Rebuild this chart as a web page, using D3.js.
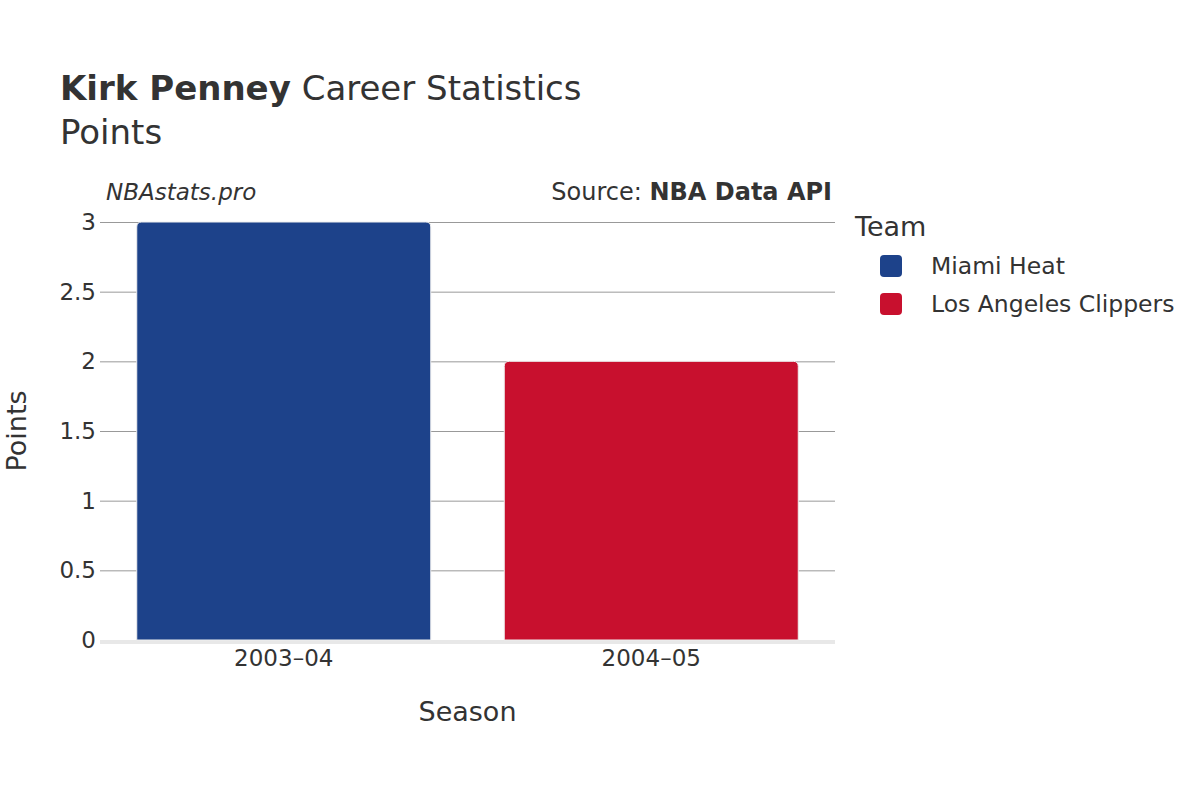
<!DOCTYPE html>
<html>
<head>
<meta charset="utf-8">
<script src="https://cdn.jsdelivr.net/npm/d3@7"></script>
<style>
  body { margin: 0; background: #fff; }
  text { font-family: "DejaVu Sans", sans-serif; fill: #333; }
</style>
</head>
<body>
<div class="chart"></div>
<script>
// data
const seasons = ['2003–04', '2004–05']
const teams = ['Miami Heat', 'Los Angeles Clippers']
const points = [3, 2]
const teamColors = ['#1d428a', '#c8102e']
const yTicks = [0, 0.5, 1, 1.5, 2, 2.5, 3]

const width = 1200, height = 800
const margin = { top: 222, left: 100, right: 365, bottom: 160 }
const innerWidth = width - margin.left - margin.right
const innerHeight = height - margin.top - margin.bottom

const svg = d3.select('.chart').append('svg')
  .attr('width', width)
  .attr('height', height)

// titles
const title = svg.append('text').attr('x', 60).attr('y', 100).style('font-size', '34px')
title.append('tspan').style('font-weight', 'bold').text('Kirk Penney')
title.append('tspan').text(' Career Statistics')
svg.append('text').attr('x', 60).attr('y', 144).style('font-size', '34px').text('Points')

svg.append('text').attr('x', 106).attr('y', 200).style('font-size', '23px')
  .style('font-style', 'italic').text('NBAstats.pro')
const src = svg.append('text').attr('x', 832).attr('y', 200).style('font-size', '24px')
  .attr('text-anchor', 'end')
src.append('tspan').text('Source: ')
src.append('tspan').style('font-weight', 'bold').text('NBA Data API')

const g = svg.append('g').attr('transform', `translate(${margin.left},${margin.top})`)

const x = d3.scaleBand().domain(seasons).range([0, innerWidth]).paddingInner(0.2).paddingOuter(0.1)
const y = d3.scaleLinear().domain([0, 3]).range([innerHeight, 0])

// grid + y labels
const yAxis = d3.axisLeft(y).tickValues(yTicks).tickSize(-innerWidth).tickPadding(4)
  .tickFormat(d3.format('~g'))
g.append('g').call(yAxis)
  .call(s => s.select('.domain').remove())
  .call(s => s.selectAll('line').attr('stroke', '#999'))
  .call(s => s.selectAll('text').style('font-size', '23px').attr('fill', '#333'))

g.append('line').attr('x1', 0).attr('x2', innerWidth)
  .attr('y1', y(0) + 2).attr('y2', y(0) + 2)
  .attr('stroke', '#e8e8e8').attr('stroke-width', 4)

g.selectAll('.bar').data(seasons).join('path')
  .attr('class', 'bar')
  .attr('fill', (d, i) => teamColors[i])
  .attr('stroke', '#eee').attr('stroke-width', 1)
  .attr('d', (d, i) => {
    const x0 = x(d), w = x.bandwidth(), y0 = y(points[i]), b = y(0), r = 5
    return `M${x0},${b}V${y0 + r}Q${x0},${y0} ${x0 + r},${y0}H${x0 + w - r}Q${x0 + w},${y0} ${x0 + w},${y0 + r}V${b}Z`
  })

// x axis
const xAxis = d3.axisBottom(x).tickSize(0).tickPadding(10)
g.append('g').attr('transform', `translate(0,${innerHeight})`).call(xAxis)
  .call(s => s.select('.domain').remove())
  .call(s => s.selectAll('text').style('font-size', '23px').attr('fill', '#333'))

svg.append('text').attr('x', margin.left + innerWidth / 2).attr('y', 721)
  .attr('text-anchor', 'middle').style('font-size', '27px').text('Season')
svg.append('text').attr('transform', `translate(26,${margin.top + innerHeight / 2}) rotate(-90)`)
  .attr('text-anchor', 'middle').style('font-size', '27px').text('Points')

// legend
svg.append('text').attr('x', 855).attr('y', 236).style('font-size', '27px').text('Team')
const leg = svg.append('g').selectAll('g').data(teams).join('g')
  .attr('transform', (d, i) => `translate(880,${255 + i * 38})`)
leg.append('rect').attr('width', 22).attr('height', 22).attr('rx', 4)
  .attr('fill', (d, i) => teamColors[i])
leg.append('text').attr('x', 51).attr('y', 19).style('font-size', '23.5px').text(d => d)
</script>
</body>
</html>
